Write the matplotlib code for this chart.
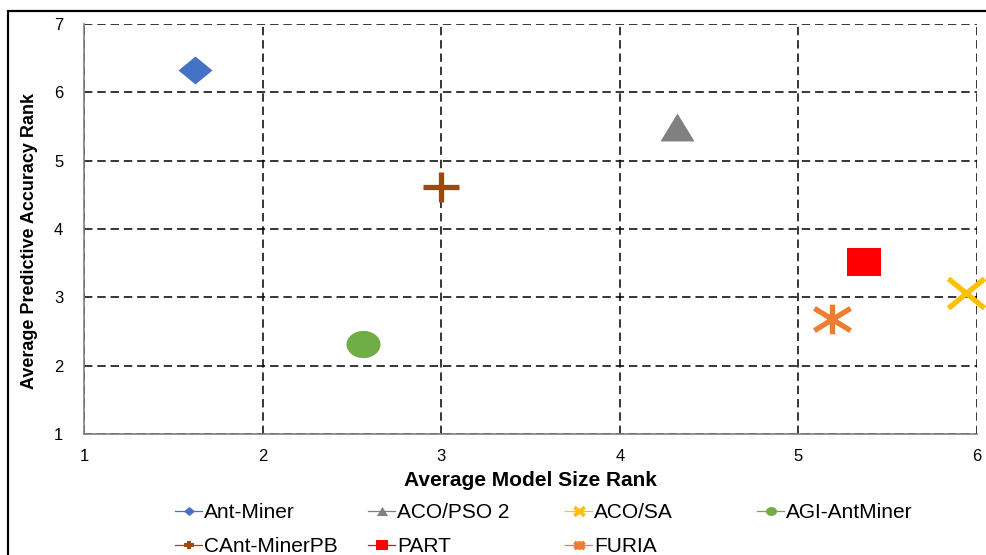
import numpy as np
import matplotlib
matplotlib.use("Agg")
import matplotlib.pyplot as plt
from matplotlib.path import Path
from matplotlib.lines import Line2D
from matplotlib.patches import Rectangle

plt.rcParams["font.family"] = ["Liberation Sans", "DejaVu Sans"]

# Average ranks per algorithm
methods = ["Ant-Miner", "ACO/PSO 2", "ACO/SA", "AGI-AntMiner",
           "CAnt-MinerPB", "PART", "FURIA"]
size_rank = [1.62, 4.32, 5.94, 2.56, 3.00, 5.37, 5.19]
acc_rank = [6.33, 5.50, 3.07, 2.31, 4.62, 3.51, 2.68]
colors = ["#4472C4", "#808080", "#FFC000", "#70AD47",
          "#9E480E", "#FF0000", "#ED7D31"]

x_ticks = [1, 2, 3, 4, 5, 6]
y_ticks = [1, 2, 3, 4, 5, 6, 7]

# Marker shapes (slightly wider than tall)
ar = 0.82
M, L = Path.MOVETO, Path.LINETO
diamond = Path([(0, ar), (1, 0), (0, -ar), (-1, 0), (0, ar)],
               [M, L, L, L, Path.CLOSEPOLY])
triangle = Path([(0, ar), (1, -ar), (-1, -ar), (0, ar)],
                [M, L, L, Path.CLOSEPOLY])
circ = Path.unit_circle()
ellipse = Path(circ.vertices * np.array([1.0, 0.8]), circ.codes)
square = Path([(-1, -ar), (1, -ar), (1, ar), (-1, ar), (-1, -ar)],
              [M, L, L, L, Path.CLOSEPOLY])
xcross = Path([(-1, -ar), (1, ar), (-1, ar), (1, -ar)], [M, L, M, L])
plus = Path([(-1, 0), (1, 0), (0, -ar), (0, ar)], [M, L, M, L])
star = Path([(-1, -ar * 0.75), (1, ar * 0.75), (-1, ar * 0.75), (1, -ar * 0.75),
             (0, -ar), (0, ar)], [M, L, M, L, M, L])

shapes = [diamond, triangle, xcross, ellipse, plus, square, star]
stroked = [False, False, True, False, True, False, True]

fig = plt.figure(figsize=(9.86, 5.55), dpi=100)
ax = fig.add_axes([84 / 986, 1 - 434 / 555, (977 - 84) / 986, (434 - 24) / 555])

ax.set_xlim(1, 6)
ax.set_ylim(1, 7)
ax.set_xticks(x_ticks)
ax.set_yticks(y_ticks)
ax.tick_params(length=0, labelsize=12, colors="black")
ax.tick_params(axis="y", pad=15)
ax.tick_params(axis="x", pad=11)

ax.grid(True, color="black", linestyle=(0, (5.5, 3.2)), linewidth=1.1)
ax.set_axisbelow(True)
for side in ["top", "right"]:
    ax.spines[side].set_visible(False)
for side in ["left", "bottom"]:
    ax.spines[side].set_color("#7F7F7F")
    ax.spines[side].set_linewidth(1.2)

for xv, yv, c, shp, st in zip(size_rank, acc_rank, colors, shapes, stroked):
    if st:
        ax.plot([xv], [yv], linestyle="none", marker=shp, markersize=26,
                markerfacecolor="none", markeredgecolor=c, markeredgewidth=3.8,
                clip_on=False, zorder=5)
    else:
        ax.plot([xv], [yv], linestyle="none", marker=shp, markersize=24.5,
                markerfacecolor=c, markeredgewidth=0, clip_on=False, zorder=5)

ax.set_xlabel("Average Model Size Rank", fontsize=15, fontweight="bold")
ax.xaxis.set_label_coords(0.5, -0.1146)
ax.xaxis.label.set_va("center")
ax.set_ylabel("Average Predictive Accuracy Rank", fontsize=13, fontweight="bold")
ax.yaxis.set_label_coords(-0.0605, 0.471)
ax.yaxis.label.set_va("center")

# Legend: Excel-style line-through-marker handles, four columns
handles = []
for c, shp, st in zip(colors, shapes, stroked):
    if st:
        h = Line2D([], [], color=c, linewidth=0.9, marker=shp, markersize=7.5,
                   markerfacecolor="none", markeredgecolor=c, markeredgewidth=2.8)
    else:
        h = Line2D([], [], color=c, linewidth=0.9, marker=shp, markersize=8,
                   markerfacecolor=c, markeredgewidth=0)
    handles.append(h)

columns = [[0, 4], [1, 5], [2, 6], [3]]
col_x = [175, 368, 565, 757]
for idx, px in zip(columns, col_x):
    fig.legend([handles[i] for i in idx], [methods[i] for i in idx],
               loc="upper left", bbox_to_anchor=(px / 986, 1 - 503 / 555),
               frameon=False, borderpad=0, borderaxespad=0,
               handlelength=1.3, handletextpad=0.1, labelspacing=0.73,
               fontsize=15)

# Outer chart frame
fig.patches.append(Rectangle((8 / 986, -0.1), 1.2, 1 - 11 / 555 + 0.1,
                             transform=fig.transFigure, fill=False,
                             edgecolor="black", linewidth=1.6))

fig.savefig("out.png", dpi=100)
